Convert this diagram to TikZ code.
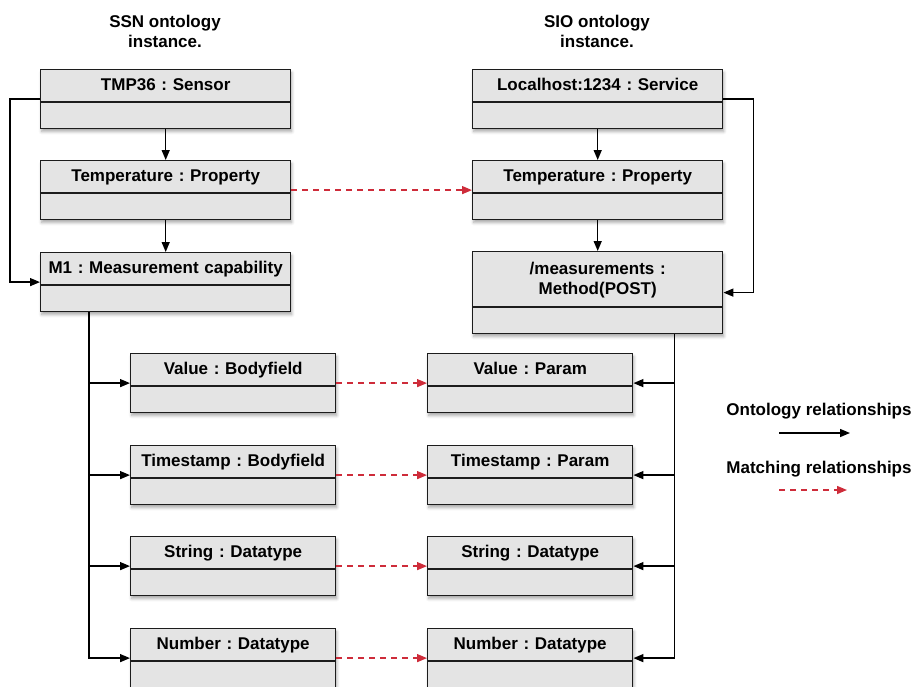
\documentclass[tikz,border=0pt]{standalone}
\usepackage{fontspec}
\setmainfont{Liberation Sans}
\usepackage{xcolor}
\usepackage{tikz}
\usetikzlibrary{shapes.multipart, arrows.meta, positioning, shadows.blur}
\definecolor{boxgray}{RGB}{228, 228, 228}
\definecolor{boxedge}{RGB}{28, 28, 28}
\definecolor{matchred}{RGB}{206, 44, 58}

% struts for the title compartment of a class box
\newcommand{\oneline}[1]{\rule[-11pt]{0pt}{31pt}#1}
\newcommand{\twolines}[2]{\rule{0pt}{22pt}#1\\#2\rule[-12pt]{0pt}{12pt}}

\begin{document}
\frenchspacing
\begin{tikzpicture}[
    x=1pt, y=-1pt,
    cls/.style={rectangle split, rectangle split parts=2, draw=boxedge, line width=1.4pt, fill=boxgray,
        inner xsep=0pt, inner ysep=0pt, align=center, font=\fontsize{17}{20}\selectfont\bfseries,
        rectangle split empty part height=25pt, rectangle split empty part depth=0pt,
        blur shadow={shadow xshift=1pt, shadow yshift=-3pt, shadow blur radius=3pt, shadow opacity=35}},
    wide/.style={cls, text width=250pt, anchor=north west},
    narrow/.style={cls, text width=205pt, anchor=north west},
    hdr/.style={font=\fontsize{17}{20}\selectfont\bfseries, align=center, anchor=base},
    lgtext/.style={font=\fontsize{17}{20}\selectfont\bfseries, anchor=base},
    rel/.style={-{Triangle[length=10pt, width=8pt]}, line width=1.4pt, black},
    match/.style={-{Triangle[length=10pt, width=8pt]}, line width=1.4pt, matchred, dash pattern=on 6pt off 5pt}
]
\useasboundingbox (0,0) rectangle (915,686);

% ── Left: SSN instance ──
\node[hdr] (ssnhdr) at (165,47) {SSN ontology\\instance.};

\node[wide] (tmp) at (40,69) {\oneline{TMP36 : Sensor}};
\node[wide] (tempL) at (40,160) {\oneline{Temperature : Property}};
\node[wide] (mcap) at (40,252) {\oneline{M1 : Measurement capability}};

\node[narrow] (valL) at (130,353) {\oneline{Value : Bodyfield}};
\node[narrow] (tsL) at (130,445) {\oneline{Timestamp : Bodyfield}};
\node[narrow] (strL) at (130,536) {\oneline{String : Datatype}};
\node[narrow] (numL) at (130,628) {\oneline{Number : Datatype}};

\draw[rel] (tmp) -- (tempL);
\draw[rel] (tempL) -- (mcap);
\draw[rel] (tmp.west) -- ++(-30,0) |- (mcap.west);

\coordinate (ltrunk) at ([xshift=49pt]mcap.south west);
\draw[rel] (ltrunk) |- (valL.west);
\draw[rel] (ltrunk) |- (tsL.west);
\draw[rel] (ltrunk) |- (strL.west);
\draw[rel] (ltrunk) |- (numL.west);

% ── Right: SIO instance ──
\node[hdr] (siohdr) at (597,47) {SIO ontology\\instance.};

\node[wide] (svc) at (472,69) {\oneline{Localhost:1234 : Service}};
\node[wide] (tempR) at (472,160) {\oneline{Temperature : Property}};
\node[wide] (meth) at (472,251) {\twolines{/measurements :}{Method(POST)}};

\node[narrow] (valR) at (427,353) {\oneline{Value : Param}};
\node[narrow] (tsR) at (427,445) {\oneline{Timestamp : Param}};
\node[narrow] (strR) at (427,536) {\oneline{String : Datatype}};
\node[narrow] (numR) at (427,628) {\oneline{Number : Datatype}};

\draw[rel] (svc) -- (tempR);
\draw[rel] (tempR) -- (meth);
\draw[rel] (svc.east) -- ++(30,0) |- (meth.east);

\coordinate (rtrunk) at ([xshift=-49pt]meth.south east);
\draw[rel] (rtrunk) |- (valR.east);
\draw[rel] (rtrunk) |- (tsR.east);
\draw[rel] (rtrunk) |- (strR.east);
\draw[rel] (rtrunk) |- (numR.east);

% Matches between the two instances
\draw[match] (tempL.east) -- (tempR.west);
\draw[match] (valL.east) -- (valR.west);
\draw[match] (tsL.east) -- (tsR.west);
\draw[match] (strL.east) -- (strR.west);
\draw[match] (numL.east) -- (numR.west);

% ── Legend ──
\node[lgtext] (lgrel) at (819,415) {Ontology relationships};
\coordinate (lgrelA) at (779,433);
\coordinate (lgrelB) at (850,433);
\draw[rel] (lgrelA) -- (lgrelB);

\node[lgtext] (lgmatch) at (819,473) {Matching relationships};
\coordinate (lgmatchA) at (779,490);
\coordinate (lgmatchB) at (847,490);
\draw[match] (lgmatchA) -- (lgmatchB);

\end{tikzpicture}
\end{document}
